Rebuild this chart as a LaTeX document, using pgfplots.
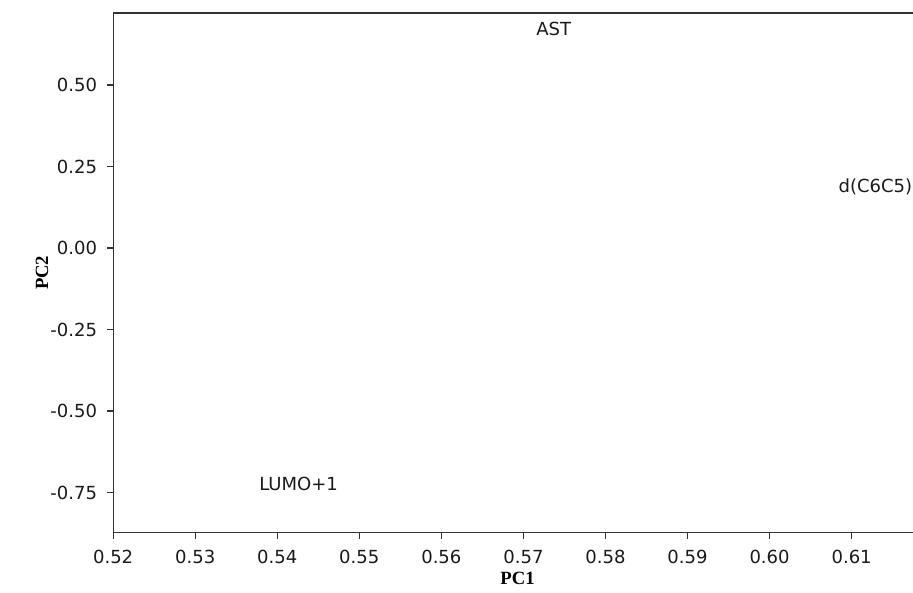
\documentclass[border=0pt]{standalone}
\usepackage{pgfplots}
\pgfplotsset{compat=1.18}
\usepackage{fontspec}
\setmainfont{DejaVu Sans}
\newfontfamily\labfont{Liberation Serif}
\definecolor{axisgray}{HTML}{333333}
\definecolor{txtgray}{HTML}{1A1A1A}
\begin{document}
\begin{tikzpicture}
\begin{axis}[
    scale only axis,
    width=600pt, height=389.25pt,
    xmin=0.52, xmax=0.6176,
    ymin=-0.873, ymax=0.721,
    xtick={0.52,0.53,0.54,0.55,0.56,0.57,0.58,0.59,0.60,0.61},
    ytick={-0.75,-0.5,-0.25,0,0.25,0.5},
    minor tick num=0,
    tick align=outside,
    tick pos=left,
    major tick length=4.5pt,
    axis line style={axisgray, line width=0.9pt},
    tick style={axisgray, line width=0.9pt},
    /pgf/number format/fixed,
    /pgf/number format/fixed zerofill,
    /pgf/number format/precision=2,
    /pgf/number format/assume math mode=true,
    tick label style={font=\fontsize{13.5}{15}\selectfont, text=txtgray},
    xticklabel style={yshift=-5pt},
    yticklabel style={xshift=-4pt},
    xlabel={PC1}, ylabel={PC2},
    every axis x label/.style={at={(axis description cs:0.505,-0.0886)}, anchor=center,
        font=\labfont\bfseries\fontsize{14}{16}\selectfont},
    every axis y label/.style={at={(axis description cs:-0.0888,0.5)}, rotate=90, anchor=center,
        font=\labfont\bfseries\fontsize{14}{16}\selectfont},
    clip=false,
]
% variable labels placed at their loadings
\addplot[only marks, mark=none,
    nodes near coords, point meta=explicit symbolic,
    every node near coord/.append style={anchor=center, font=\fontsize{13.5}{15}\selectfont, text=txtgray}
] coordinates {
    (0.5737, 0.672) [AST]
    (0.5426, -0.725) [LUMO+1]
    (0.6129, 0.189) [d(C6C5)]
};
\coordinate (ll) at (rel axis cs:0,0);
\coordinate (ur) at (rel axis cs:1,1);
\end{axis}
% page ends at the right edge of the plot area, as in the reference
\pgfresetboundingbox
\path[use as bounding box] ([xshift=-84.75pt, yshift=-45pt]ll) rectangle ([xshift=-0.75pt, yshift=9.75pt]ur);
\end{tikzpicture}
\end{document}
